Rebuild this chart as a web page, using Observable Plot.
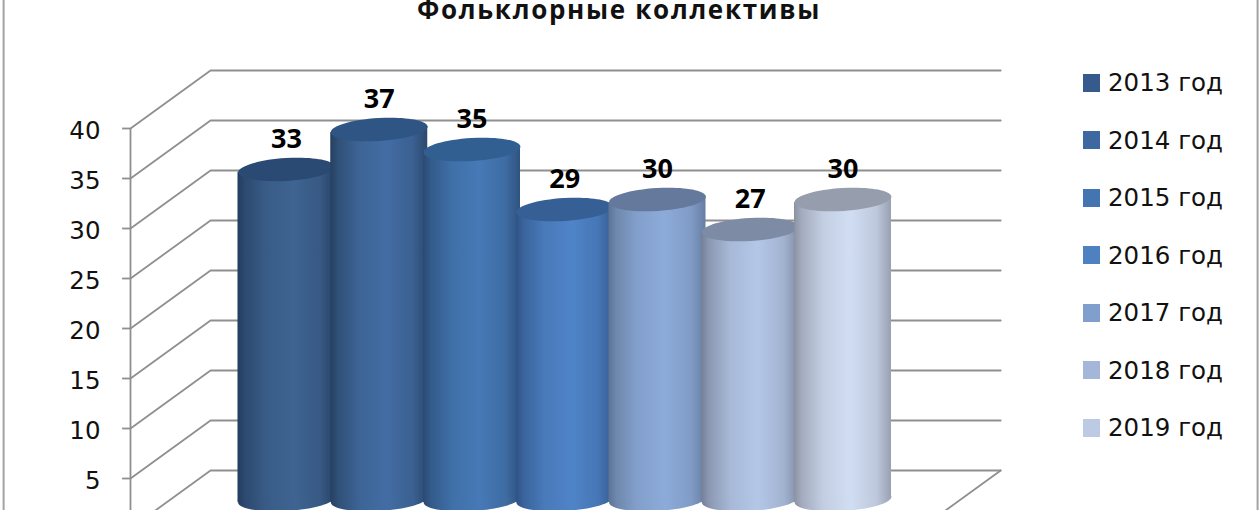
<!DOCTYPE html>
<html lang="ru">
<head>
<meta charset="utf-8">
<script src="https://cdn.jsdelivr.net/npm/d3@7"></script>
<script src="https://cdn.jsdelivr.net/npm/@observablehq/plot@0.6"></script>
<style>
  html, body { margin: 0; padding: 0; background: #fff; overflow: hidden; }
  #wrap { position: relative; width: 1260px; height: 510px; overflow: hidden; }
  #title { position: absolute; left: 0; width: 1238px; top: 0; text-align: center; line-height: 18px;
           font-family: "Open Sans", sans-serif; font-weight: bold; font-size: 26px; letter-spacing: 1.7px;
           color: #111; white-space: nowrap; }
  #legend { position: absolute; left: 1083px; top: 54px; }
  #legend div { height: 57.5px; display: flex; align-items: center;
                font: 24.5px "DejaVu Sans", sans-serif; color: #111; white-space: nowrap; }
  #legend i { display: block; width: 17px; height: 18px; margin-right: 8px; }
</style>
</head>
<body>
<div id="wrap">
  <div id="chart"></div>
  <div id="title"></div>
  <div id="legend"></div>
</div>
<script>
const titleText = "Фольклорные коллективы";
const years = ["2013 год", "2014 год", "2015 год", "2016 год", "2017 год", "2018 год", "2019 год"];
const values = [33, 37, 35, 29, 30, 27, 30];
const yTicks = [0, 5, 10, 15, 20, 25, 30, 35, 40];

const bodyColors = ["#3f6491", "#436da4", "#4679b6", "#4f84c8", "#8dabd9", "#b4c7e7", "#d1ddf2"];
const edgeColors = ["#233c5e", "#26405f", "#294a72", "#2f5284", "#5d7396", "#757f96", "#8a92a2"];
const topColors  = ["#2a4a74", "#2f5584", "#325f92", "#365f95", "#64799b", "#7d8ba5", "#969eae"];
const legendColors = ["#365a8c", "#3e69a0", "#4575b0", "#4f80c0", "#809fcc", "#a4b7d9", "#bccbe3"];

// Depth of the 3-D box, in scale units
const depthX = 0.863, depthY = 5.8;
const axisX = -1.682, backLeft = axisX + depthX, backRight = 7.70;
const halfBar = 0.523, tiltY = 0.3, midY = depthY / 2;

const ellipse = {
  draw(ctx, size) {
    const rx = Math.sqrt(size / Math.PI), ry = rx * 0.235, a = -3.5 * Math.PI / 180, k = 0.5523;
    const P = (x, y) => [x * Math.cos(a) - y * Math.sin(a), x * Math.sin(a) + y * Math.cos(a)];
    ctx.moveTo(...P(rx, 0));
    ctx.bezierCurveTo(...P(rx, k * ry), ...P(k * rx, ry), ...P(0, ry));
    ctx.bezierCurveTo(...P(-k * rx, ry), ...P(-rx, k * ry), ...P(-rx, 0));
    ctx.bezierCurveTo(...P(-rx, -k * ry), ...P(-k * rx, -ry), ...P(0, -ry));
    ctx.bezierCurveTo(...P(k * rx, -ry), ...P(rx, -k * ry), ...P(rx, 0));
    ctx.closePath();
  }
};

const gridStroke = "#8f8f8f";
const gridMarks = yTicks.map(v => Plot.line(
  [{x: axisX, y: v}, {x: backLeft, y: v + depthY}, {x: backRight, y: v + depthY}],
  {x: "x", y: "y", stroke: gridStroke, strokeWidth: 1.8}
));
const floorRight = Plot.line(
  [{x: backRight, y: depthY}, {x: backRight - depthX, y: 0}],
  {x: "x", y: "y", stroke: gridStroke, strokeWidth: 1.8}
);

const barMarks = values.flatMap((v, i) => {
  const fill = `url(#cyl${i})`;
  const body = [
    {x: i - halfBar, b: midY - tiltY, t: v + midY - tiltY},
    {x: i + halfBar, b: midY + tiltY, t: v + midY + tiltY}
  ];
  return [
    Plot.dot([{x: i, y: midY}], {x: "x", y: "y", r: 48.5, symbol: ellipse, fill, stroke: "none"}),
    Plot.areaY(body, {x: "x", y1: "b", y2: "t", fill}),
    Plot.dot([{x: i, y: v + midY}], {x: "x", y: "y", r: 48.5, symbol: ellipse, fill: topColors[i], stroke: "none"})
  ];
});

const plot = Plot.plot({
  width: 1260, height: 510,
  marginLeft: 130, marginRight: 0, marginTop: 0, marginBottom: 0,
  style: {background: "#fff", overflow: "hidden"},
  x: {domain: [0, 6], range: [286, 842.5], axis: null},
  y: {domain: [0, 40], range: [528, 128]},
  marks: [
    Plot.ruleX([axisX], {y1: 0, y2: 40, stroke: gridStroke, strokeWidth: 1.8}),
    ...gridMarks,
    floorRight,
    Plot.ruleY(yTicks, {x1: axisX - 0.085, x2: axisX, stroke: gridStroke, strokeWidth: 1.8}),
    Plot.axisY({
      ticks: yTicks, anchor: "left", label: null, tickSize: 0, tickPadding: 30, dy: 2.5,
      fontSize: 24.5, fill: "#111",
      fontFamily: "DejaVu Sans", tickFormat: d => d === 0 ? "" : d
    }),
    ...barMarks,
    Plot.text(values, {
      x: (d, i) => i, y: d => d + midY, text: d => String(d), dy: -30,
      fontSize: 27, fontWeight: "bold", fontFamily: "Open Sans", fill: "#000"
    }),
    Plot.ruleX([-3.05, 10.47], {stroke: "#a3a3a3", strokeWidth: 2})
  ]
});

// Cylinder shading
const ns = "http://www.w3.org/2000/svg";
const defs = document.createElementNS(ns, "defs");
values.forEach((_, i) => {
  const g = document.createElementNS(ns, "linearGradient");
  g.setAttribute("id", `cyl${i}`);
  const mix = d3.interpolateRgb(edgeColors[i], bodyColors[i]);
  [[0, 0], [0.08, 0.35], [0.3, 0.8], [0.58, 1], [0.85, 0.72], [1, 0.2]].forEach(([o, t]) => {
    const s = document.createElementNS(ns, "stop");
    s.setAttribute("offset", o);
    s.setAttribute("stop-color", mix(t));
    g.appendChild(s);
  });
  defs.appendChild(g);
});
plot.prepend(defs);
document.getElementById("chart").appendChild(plot);

document.getElementById("title").textContent = titleText;
const legend = document.getElementById("legend");
years.forEach((y, i) => {
  const row = document.createElement("div");
  const sw = document.createElement("i");
  sw.style.background = legendColors[i];
  row.appendChild(sw);
  row.appendChild(document.createTextNode(y));
  legend.appendChild(row);
});
</script>
</body>
</html>
